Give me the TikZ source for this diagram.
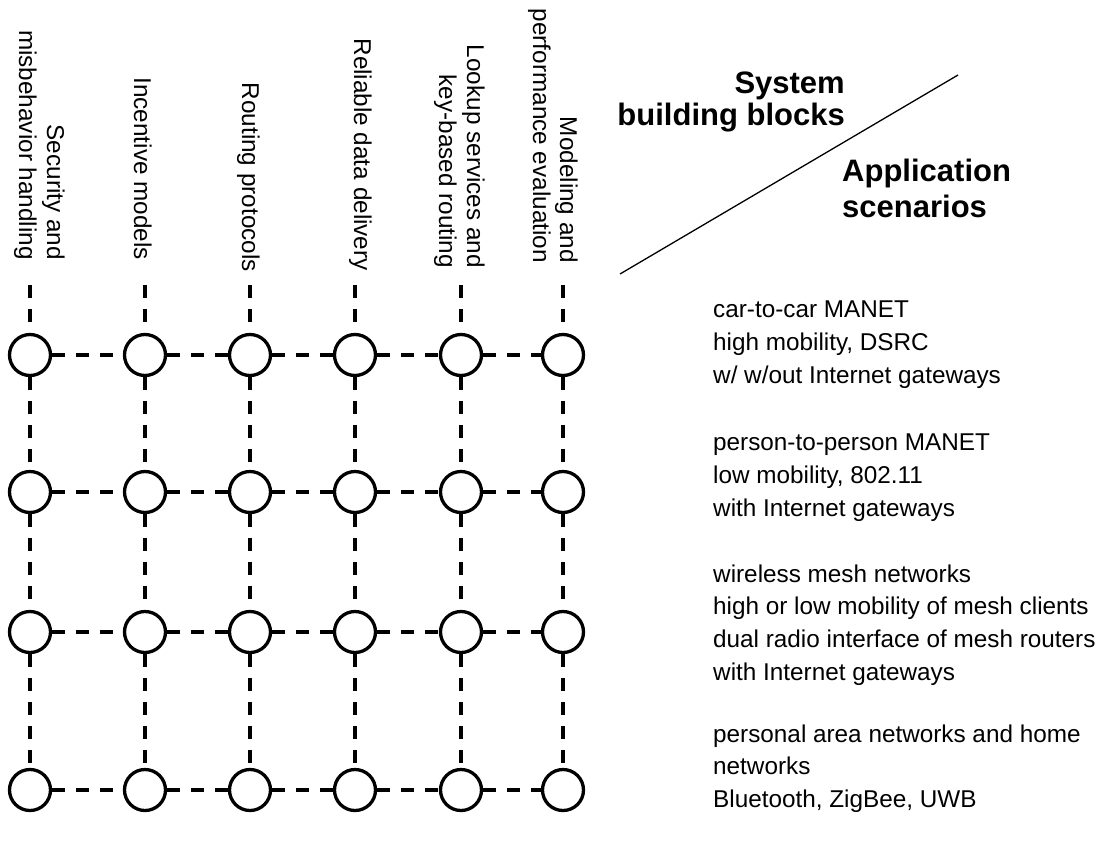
\documentclass[tikz,border=0pt]{standalone}
\usepackage{fontspec}
\setmainfont{Liberation Sans}
% stacked lines with a fixed baseline distance; the box baseline is the first line
\newcommand\RightLines[2]{\vtop{\baselineskip=#1\relax\lineskiplimit=-100pt\halign{\hfil##\cr#2\crcr}}}
\newcommand\LeftLines[2]{\vtop{\baselineskip=#1\relax\lineskiplimit=-100pt\halign{##\hfil\cr#2\crcr}}}
\begin{document}
\begin{tikzpicture}[x=1pt,y=-1pt,
  hub/.style={circle,draw=black,line width=3.3pt,minimum size=41pt,inner sep=0pt,fill=white},
  link/.style={draw=black,line width=3.3pt,dash pattern=on 13pt off 11pt},
  colhead/.style={rotate=-90,anchor=base east,inner sep=0pt,font=\fontsize{24.3}{28}\selectfont},
  scen/.style={anchor=base west,inner sep=0pt,font=\fontsize{24.3}{33}\selectfont},
  axishead/.style={inner sep=0pt,font=\fontsize{31}{32}\selectfont\bfseries}]
\useasboundingbox (0,0) rectangle (1100,841);

% building block headings (rotated, read top to bottom)
\node[colhead] (h1) at (47,260)  {\RightLines{28pt}{Security and\cr misbehavior handling}};
\node[colhead] (h2) at (134,260) {Incentive models};
\node[colhead] (h3) at (242,272) {Routing protocols};
\node[colhead] (h4) at (354,271) {Reliable data delivery};
\node[colhead] (h5) at (467,268) {\RightLines{28pt}{Lookup services and\cr key-based routing}};
\node[colhead] (h6) at (560,263) {\RightLines{27pt}{Modeling and\cr performance evaluation}};

% grid of nodes
\foreach \c/\x in {1/30,2/145,3/250,4/355,5/461,6/563}{
  \coordinate (t\c) at (\x,285);
  \foreach \r/\y in {1/355,2/492,3/632,4/790}
    \node[hub] (n\c-\r) at (\x,\y) {};
}

% horizontal links
\foreach \r in {1,...,4}{
  \foreach \c [evaluate=\c as \nx using int(\c+1)] in {1,...,5}
    \draw[link] (n\c-\r) -- (n\nx-\r);
}

% vertical links
\foreach \c in {1,...,6}{
  \draw[link] (t\c) -- (n\c-1);
  \foreach \r [evaluate=\r as \s using int(\r+1)] in {1,...,3}
    \draw[link] (n\c-\r) -- (n\c-\s);
}

% diagonal separator and axis headings
\coordinate (dA) at (620,274);
\coordinate (dB) at (958,75);
\draw[line width=1.3pt] (dA) -- (dB);
\node[axishead,anchor=base east] (sys) at (845,93) {\RightLines{32pt}{System\cr building blocks}};
\node[axishead,anchor=base west] (app) at (842,181) {\LeftLines{36pt}{Application\cr scenarios}};

% application scenarios
\node[scen] (s1) at (713,317) {\LeftLines{33.4pt}{car-to-car MANET\cr high mobility, DSRC\cr w/ w/out Internet gateways}};
\node[scen] (s2) at (713,450) {\LeftLines{33.4pt}{person-to-person MANET\cr low mobility, 802.11\cr with Internet gateways}};
\node[scen] (s3) at (713,582) {\LeftLines{32.8pt}{wireless mesh networks\cr high or low mobility of mesh clients\cr dual radio interface of mesh routers\cr with Internet gateways}};
\node[scen] (s4) at (713,742) {\LeftLines{32.5pt}{personal area networks and home\cr networks\cr Bluetooth, ZigBee, UWB}};
\end{tikzpicture}
\end{document}
